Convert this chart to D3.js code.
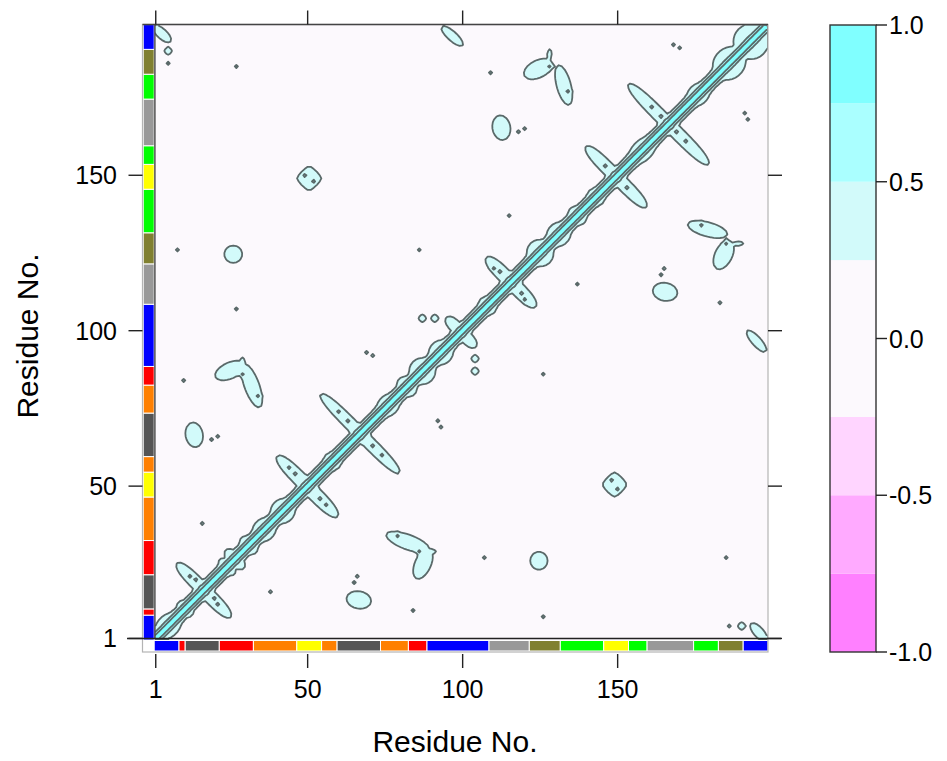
<!DOCTYPE html>
<html>
<head>
<meta charset="utf-8">
<script src="https://cdn.jsdelivr.net/npm/d3@7"></script>
<style>
  html, body { margin: 0; padding: 0; background: #ffffff; }
  svg { display: block; font-family: "Liberation Sans", Arial, Helvetica, sans-serif; }
</style>
</head>
<body>
<svg id="chart" width="947" height="761"></svg>
<script>
// ---------------------------------------------------------------------------
// Dynamical cross-correlation map (residue x residue), contour levels at
// +-0.25, +-0.5, +-0.75 with a residue annotation strip on both axes.
// ---------------------------------------------------------------------------

const nResidues = 198;
const axisTicks = [1, 50, 100, 150];
const levelBreaks = [-1, -0.75, -0.5, -0.25, 0.25, 0.5, 0.75, 1];
const levelColors = ["#ff80ff", "#ffaaff", "#ffd5ff", "#fcf9fd", "#d2fafa", "#aaffff", "#80ffff"];
const colorbarTicks = [-1, -0.5, 0, 0.5, 1];

// residue annotation strip: first residue, last residue, group
const segStart = [1, 9, 11, 22, 33, 47, 55, 60, 74, 83, 89, 109, 122, 132, 146, 154, 160, 175, 183, 191];
const segEnd   = [8, 10, 21, 32, 46, 54, 59, 73, 82, 88, 108, 121, 131, 145, 153, 159, 174, 182, 190, 198];
const segGroup = ["A", "B", "C", "B", "D", "E", "D", "C", "D", "B", "A", "F", "G", "H", "E", "H", "F", "H", "G", "A"];
const groupNames  = ["A", "B", "C", "D", "E", "F", "G", "H"];
const groupColors = ["#0000ff", "#ff0000", "#555555", "#ff8000", "#ffff00", "#999999", "#808030", "#00ff00"];

// correlation of residue i with residue i+d, for d = 0, 1, 2, 3, 4
const neighbourCorr = [1, 0.8, 0.56, 0.32, 0.12];

// widening of the diagonal band: [centre residue, half length along diagonal, |i-j| reach, peak]
const diagBulges = [
  [5, 3.5, 5.0, 0.45],
  [10.5, 1.5, 4.4, 0.45],
  [24, 1.5, 4.8, 0.45],
  [26.5, 1.5, 6.0, 0.45],
  [31, 1.8, 4.8, 0.45],
  [36, 3, 5.0, 0.45],
  [42, 3, 5.4, 0.45],
  [58, 2, 4.2, 0.45],
  [76, 3, 4.6, 0.45],
  [82, 2, 5.0, 0.45],
  [87, 3, 6.0, 0.45],
  [93, 3, 5.4, 0.45],
  [108, 2, 4.4, 0.45],
  [125, 3, 6.2, 0.45],
  [131, 3, 5.2, 0.45],
  [137, 2, 4.6, 0.45],
  [143, 2, 4.2, 0.45],
  [158, 4, 4.6, 0.45],
  [176, 3, 4.6, 0.45],
  [186, 4, 7.0, 0.45],
  [193, 4, 8.0, 0.45]
];

// anti-diagonal (hairpin) couplings: [centre residue, half length, half width, peak]
const hairpins = [
  [16.5, 8.7, 1.5, 0.45],
  [49.9, 9.8, 1.6, 0.45],
  [66.9, 12.8, 1.4, 0.45],
  [99.5, 4.8, 1.4, 0.42],
  [115.6, 8, 1.6, 0.45],
  [149.5, 9.8, 1.5, 0.45],
  [166.4, 13, 1.5, 0.45]
];

// off-diagonal patches (i < j half, mirrored): [i, j, reach i, reach j, angle deg, peak, shape exponent]
const patches = [
  [50.5, 149, 3.9, 3.9, 0, 0.5, 1.3],
  [26, 124.6, 2.9, 2.8, 0, 0.4, 2],
  [25, 87.2, 5.2, 2.6, 24, 0.45, 2],
  [32, 82.3, 7.4, 2.4, -70, 0.45, 2],
  [28.8, 89.8, 1.6, 0.8, 80, 0.42, 2],
  [13.4, 66.5, 2.8, 4, 10, 0.42, 2],
  [112.5, 165.3, 2.9, 4, 10, 0.42, 2],
  [96.6, 194.8, 4.6, 1.5, -42, 0.42, 2],
  [3, 195.5, 3.8, 1.6, -42, 0.42, 2],
  [124.4, 184.2, 5.0, 2.8, 26, 0.45, 2],
  [132.6, 179, 6.6, 2.3, -75, 0.45, 2],
  [128, 189, 1.6, 0.8, 80, 0.42, 2],
  [5, 190, 1.2, 1.2, 0, 0.42, 2],
  [87, 104, 1.2, 1.2, 0, 0.42, 2],
  [91, 104, 1.2, 1.2, 0, 0.42, 2]
];

// small cores above 0.5 inside patches and hairpins: [i, j, peak]
const cores = [
  [49, 150, 0.62], [52, 148, 0.62],
  [29, 86, 0.6], [34, 79, 0.6],
  [128, 185, 0.6], [134, 177, 0.6],
  [12, 21, 0.6], [14, 20, 0.6],
  [44, 56, 0.6], [46, 54, 0.6],
  [60, 74, 0.6], [63, 71, 0.6],
  [110, 120, 0.6], [112, 119, 0.6],
  [146, 153, 0.6],
  [161, 172, 0.6], [164, 169, 0.6]
];

// isolated single-residue correlations just above 0.25: [i, j, peak]
const specks = [
  [8, 126, 0.4], [27, 107, 0.4], [86, 126, 0.36], [115, 137, 0.38],
  [19, 65, 0.4], [21, 66, 0.4], [118, 164, 0.4], [120, 165, 0.4],
  [5, 186, 0.4], [27, 185, 0.38], [109, 183, 0.4],
  [168, 192, 0.38], [170, 191, 0.38],
  [69, 93, 0.4], [71, 92, 0.4], [10, 84, 0.4], [16, 38, 0.4]
];

// ---------------------------------------------------------------------------
// Layout
// ---------------------------------------------------------------------------
const svg = d3.select("#chart");
const x = d3.scaleLinear().domain([0.5, nResidues + 0.5]).range([154.2, 768]);
const y = d3.scaleLinear().domain([0.5, nResidues + 0.5]).range([640, 24.5]);
const frame = { left: 142.5, top: 24.5, right: 768, bottom: 652 };
const lineColor = "#5a6969";

const level = d3.scaleThreshold().domain(levelBreaks.slice(1, -1)).range(levelColors);
const groupColor = d3.scaleOrdinal().domain(groupNames).range(groupColors);

// ---------------------------------------------------------------------------
// Correlation matrix
// ---------------------------------------------------------------------------
function bump(q, peak) { return peak * Math.exp(-Math.log(peak / 0.25) * q); }

function field(i, j) {
  const dd = Math.abs(i - j);
  let v = dd < neighbourCorr.length ? neighbourCorr[dd] : 0;
  for (const [c, L, D, P] of diagBulges) {
    const m = (i + j) / 2 - c, d = i - j;
    v = Math.max(v, bump((m / L) ** 2 + (d / D) ** 2, P));
  }
  for (const [c, L, W, P] of hairpins) {
    const a = (i - j) / 2, b = (i + j) / 2 - c;
    v = Math.max(v, bump(Math.pow(Math.abs(a) / L, 4) + (b / W) ** 2, P));
  }
  for (const [pi, pj, ri, rj, ang, P, e] of patches) {
    const t = ang * Math.PI / 180, dx = i - pi, dy = j - pj;
    const u = dx * Math.cos(t) + dy * Math.sin(t);
    const w = -dx * Math.sin(t) + dy * Math.cos(t);
    v = Math.max(v, bump(Math.pow(Math.abs(u / ri), e) + Math.pow(Math.abs(w / rj), e), P));
  }
  for (const [pi, pj, P] of cores) {
    v = Math.max(v, bump(((i - pi) ** 2 + (j - pj) ** 2) / 1.44, P));
  }
  for (const [pi, pj, P] of specks) {
    v = Math.max(v, bump(((i - pi) ** 2 + (j - pj) ** 2) / 0.36, P));
  }
  return v;
}

const n = nResidues;
const values = new Float64Array(n * n);
for (let r = 0; r < n; r++) {
  for (let c = 0; c < n; c++) {
    const i = c + 1, j = r + 1;
    values[c + r * n] = Math.max(field(i, j), field(j, i));
  }
}

// ---------------------------------------------------------------------------
// Drawing
// ---------------------------------------------------------------------------
const defs = svg.append("defs");
defs.append("clipPath").attr("id", "matrix-clip")
  .append("rect")
  .attr("x", x(0.5)).attr("y", y(n + 0.5))
  .attr("width", x(n + 0.5) - x(0.5)).attr("height", y(0.5) - y(n + 0.5));

// background level (-0.25 .. 0.25)
svg.append("rect")
  .attr("x", x(0.5)).attr("y", y(n + 0.5))
  .attr("width", x(n + 0.5) - x(0.5)).attr("height", y(0.5) - y(n + 0.5))
  .attr("fill", level(0));

const contourThresholds = levelBreaks.filter(b => b > 0 && b < 1);
const bands = d3.contours().size([n, n]).thresholds(contourThresholds)(values);
const gridToPx = d3.geoTransform({
  point(gx, gy) { this.stream.point(x(gx + 0.5), y(gy + 0.5)); }
});
const path = d3.geoPath(gridToPx);

const mat = svg.append("g").attr("clip-path", "url(#matrix-clip)");
mat.selectAll("path.fill").data(bands).join("path")
  .attr("class", "fill")
  .attr("d", path)
  .attr("fill", d => level(d.value))
  .attr("stroke", "none");
mat.selectAll("path.line").data(bands).join("path")
  .attr("class", "line")
  .attr("d", path)
  .attr("fill", "none")
  .attr("stroke", lineColor)
  .attr("stroke-width", 1.8)
  .attr("stroke-linejoin", "round");

// annotation strips
const segs = segStart.map((s, k) => ({ s, e: segEnd[k], g: segGroup[k] }));
svg.append("g").selectAll("rect").data(segs).join("rect")
  .attr("x", d => x(d.s - 0.5)).attr("width", d => x(d.e + 0.5) - x(d.s - 0.5))
  .attr("y", 640.5).attr("height", 10.5)
  .attr("fill", d => groupColor(d.g))
  .attr("stroke", "#ffffff").attr("stroke-width", 1);
svg.append("g").selectAll("rect").data(segs).join("rect")
  .attr("y", d => y(d.e + 0.5)).attr("height", d => y(d.s - 0.5) - y(d.e + 0.5))
  .attr("x", 143.2).attr("width", 11)
  .attr("fill", d => groupColor(d.g))
  .attr("stroke", "#ffffff").attr("stroke-width", 1);

// panel frame
svg.append("rect")
  .attr("x", frame.left).attr("y", frame.top)
  .attr("width", frame.right - frame.left).attr("height", frame.bottom - frame.top)
  .attr("fill", "none").attr("stroke", "#b4b4b4").attr("stroke-width", 1.2);
svg.append("line").attr("x1", frame.left).attr("x2", frame.right)
  .attr("y1", frame.top).attr("y2", frame.top)
  .attr("stroke", "#444").attr("stroke-width", 1.4);
svg.append("line").attr("x1", x(0.5) + 0.7).attr("x2", x(0.5) + 0.7)
  .attr("y1", frame.top).attr("y2", y(1))
  .attr("stroke", "#444").attr("stroke-width", 1.4);
svg.append("line").attr("x1", 127).attr("x2", 781)
  .attr("y1", y(1)).attr("y2", y(1))
  .attr("stroke", "#222").attr("stroke-width", 1.4);

// axes
const tickLen = 14;
const tickG = svg.append("g").attr("stroke", "#222").attr("stroke-width", 1.4);
axisTicks.forEach(t => {
  tickG.append("line").attr("x1", x(t)).attr("x2", x(t)).attr("y1", frame.bottom + 2).attr("y2", frame.bottom + 2 + tickLen);
  tickG.append("line").attr("x1", x(t)).attr("x2", x(t)).attr("y1", frame.top).attr("y2", frame.top - tickLen);
  tickG.append("line").attr("y1", y(t)).attr("y2", y(t)).attr("x1", frame.left).attr("x2", frame.left - tickLen);
  tickG.append("line").attr("y1", y(t)).attr("y2", y(t)).attr("x1", frame.right).attr("x2", frame.right + tickLen);
});

const tickFont = 25;
svg.append("g").selectAll("text").data(axisTicks).join("text")
  .attr("x", d => x(d)).attr("y", 698)
  .attr("text-anchor", "middle").attr("font-size", tickFont).attr("fill", "#000")
  .text(d => d);
svg.append("g").selectAll("text").data(axisTicks).join("text")
  .attr("x", 117).attr("y", d => y(d)).attr("dy", "0.36em")
  .attr("text-anchor", "end").attr("font-size", tickFont).attr("fill", "#000")
  .text(d => d);

svg.append("text").attr("x", 455).attr("y", 752)
  .attr("text-anchor", "middle").attr("font-size", 30).attr("fill", "#000")
  .text("Residue No.");
svg.append("text").attr("transform", "translate(38,336) rotate(-90)")
  .attr("text-anchor", "middle").attr("font-size", 30).attr("fill", "#000")
  .text("Residue No.");

// colour key
const cb = d3.scaleLinear().domain([-1, 1]).range([652, 25]);
const cbX = 830, cbW = 46;
const keyBands = levelColors.map((c, k) => ({ lo: levelBreaks[k], hi: levelBreaks[k + 1], c }));
svg.append("g").selectAll("rect").data(keyBands).join("rect")
  .attr("x", cbX).attr("width", cbW)
  .attr("y", d => cb(d.hi)).attr("height", d => cb(d.lo) - cb(d.hi))
  .attr("fill", d => d.c);
svg.append("rect").attr("x", cbX).attr("y", cb(1)).attr("width", cbW).attr("height", cb(-1) - cb(1))
  .attr("fill", "none").attr("stroke", "#333").attr("stroke-width", 1.4);
svg.append("g").selectAll("line").data(colorbarTicks).join("line")
  .attr("x1", cbX + cbW).attr("x2", cbX + cbW + 11)
  .attr("y1", d => cb(d)).attr("y2", d => cb(d))
  .attr("stroke", "#222").attr("stroke-width", 1.4);
svg.append("g").selectAll("text").data(colorbarTicks).join("text")
  .attr("x", cbX + cbW + 13).attr("y", d => cb(d)).attr("dy", "0.36em")
  .attr("font-size", tickFont).attr("fill", "#000")
  .text(d => d.toFixed(1));
</script>
</body>
</html>
